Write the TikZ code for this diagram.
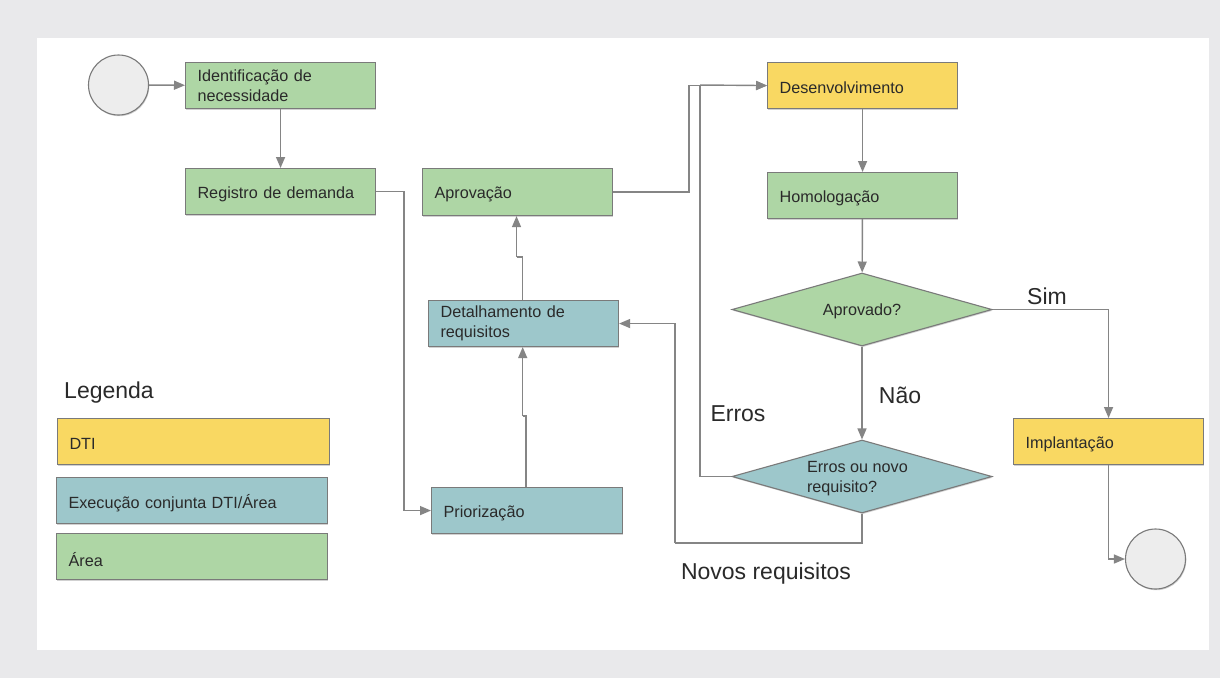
\documentclass[tikz,border=0pt]{standalone}
\usepackage{fontspec}
\setmainfont{Liberation Sans}
\usetikzlibrary{shapes.geometric,arrows.meta,shadows}
\definecolor{bggray}{HTML}{E9E9EB}
\definecolor{cgreen}{HTML}{AED6A5}
\definecolor{cyellow}{HTML}{F9D862}
\definecolor{cteal}{HTML}{9DC7CB}
\definecolor{cstroke}{HTML}{7A7A7A}
\definecolor{cline}{HTML}{858585}
\definecolor{ctext}{HTML}{2A2A2A}
\definecolor{ccirc}{HTML}{EDEDED}
\newcommand{\dn}[2][2.5pt]{\raisebox{-#1}[\height][\depth]{#2}}
\tikzset{
  boxshadow/.style={drop shadow={shadow xshift=0.8pt,shadow yshift=-1.2pt,opacity=0.18,fill=black}},
  procbox/.style={draw=cstroke,line width=1.1pt,anchor=north west,inner xsep=12pt,inner ysep=0pt,
    align=left,text=ctext,font=\fontsize{16.2}{19.5}\selectfont,boxshadow},
  greenbox/.style={procbox,fill=cgreen},
  yellowbox/.style={procbox,fill=cyellow},
  tealbox/.style={procbox,fill=cteal},
  decision/.style={diamond,draw=cstroke,line width=1.1pt,minimum width=260pt,minimum height=73pt,
    inner sep=0pt,aspect=3.56,align=left,text=ctext,font=\fontsize{16.2}{19.5}\selectfont,boxshadow},
  termcirc/.style={circle,draw=cstroke,line width=1.1pt,fill=ccirc,minimum size=60pt,inner sep=0pt,boxshadow},
  arr/.style={draw=cline,line width=1.4pt,-{Triangle[length=11pt,width=9pt]}},
  plain/.style={draw=cline,line width=1.4pt},
  biglabel/.style={text=ctext,font=\fontsize{23}{26}\selectfont,inner sep=0pt},
}
\begin{document}
\begin{tikzpicture}[x=1pt,y=-1pt]
\fill[bggray] (0,0) rectangle (1220,678);
\fill[white] (37,38) rectangle (1209,650);
\useasboundingbox (0,0) rectangle (1220,678);

% terminals
\node[termcirc] (start) at (118.5,85) {};
\node[termcirc] (finish) at (1155.5,559) {};

% process boxes
\node[greenbox,minimum width=190pt,minimum height=46pt,text width=166pt] (ident) at (185,62) {\dn[0pt]{\parbox{166pt}{\raggedright Identificação de\\necessidade}}};
\node[greenbox,minimum width=190pt,minimum height=46pt,text width=166pt] (reg) at (185,168) {\dn{Registro de demanda}};
\node[greenbox,minimum width=190pt,minimum height=47pt,text width=166pt] (apr) at (422,168) {\dn{Aprovação}};
\node[tealbox,minimum width=190pt,minimum height=46pt,text width=166pt] (det) at (428,300) {\dn[0pt]{\parbox{166pt}{\raggedright Detalhamento de\\requisitos}}};
\node[tealbox,minimum width=191pt,minimum height=46pt,text width=167pt] (prio) at (431,487) {\dn{Priorização}};
\node[yellowbox,minimum width=190pt,minimum height=46pt,text width=166pt] (dev) at (767,62) {\dn{Desenvolvimento}};
\node[greenbox,minimum width=190pt,minimum height=46pt,text width=166pt] (hom) at (767,172) {\dn{Homologação}};
\node[yellowbox,minimum width=190pt,minimum height=46pt,text width=166pt] (impl) at (1013,418) {\dn{Implantação}};

% decisions
\node[decision,fill=cgreen] (q1) at (862,309.5) {\dn[2pt]{Aprovado?}};
\node[decision,fill=cteal] (q2) at (862,476.5) {\dn[2pt]{\parbox{110pt}{\raggedright Erros ou novo\\requisito?}}};

% legend
\node[biglabel] (leg) at (109,393) {Legenda};
\node[yellowbox,minimum width=272pt,minimum height=46pt,text width=248pt] (legdti) at (57,418) {\dn{DTI}};
\node[tealbox,minimum width=271pt,minimum height=46pt,text width=247pt] (legexe) at (56,477) {\dn{Execução conjunta DTI/Área}};
\node[greenbox,minimum width=271pt,minimum height=46pt,text width=247pt] (legarea) at (56,533) {\dn{Área}};

% labels
\node[biglabel] (lsim) at (1047,296) {Sim};
\node[biglabel] (lnao) at (900,395) {Não};
\node[biglabel] (lerros) at (738,414) {Erros};
\node[biglabel] (lnovos) at (766,574) {Novos requisitos};

% connector helper coordinates
\coordinate (j1a) at (526,416);
\coordinate (j1b) at (522.7,416);
\coordinate (j2a) at (522.7,257);
\coordinate (j2b) at (516.5,257);
\coordinate (e1) at (700,85);
\coordinate (n1) at (862,543);
\coordinate (n2) at (675,543);

% connectors
\draw[arr] (start) -- (ident);
\draw[arr] (ident) -- (reg);
\draw[arr] (reg.east) -- ++(28,0) |- (prio.west);
\draw[plain] (prio.north -| j1a) -- (j1a) -- (j1b);
\draw[arr] (j1b) -- (det.south -| j1b);
\draw[plain] (det.north -| j2a) -- (j2a) -- (j2b);
\draw[arr] (j2b) -- (apr.south -| j2b);
\draw[arr] (apr.east) -- ++(76,0) |- (dev.west);
\draw[arr] (dev) -- (hom);
\draw[arr] (hom) -- (q1);
\draw[arr] (q1) -- (q2);
\draw[arr] (q1.east) -| (impl.north);
\draw[arr] (impl.south) |- (finish.west);
\draw[plain] (q2.west) -| (e1);
\draw[arr] (e1) -- (dev.west);
\draw[plain] (q2.south) -- (n1) -- (n2);
\draw[arr] (n2) |- (det.east);
\end{tikzpicture}
\end{document}
